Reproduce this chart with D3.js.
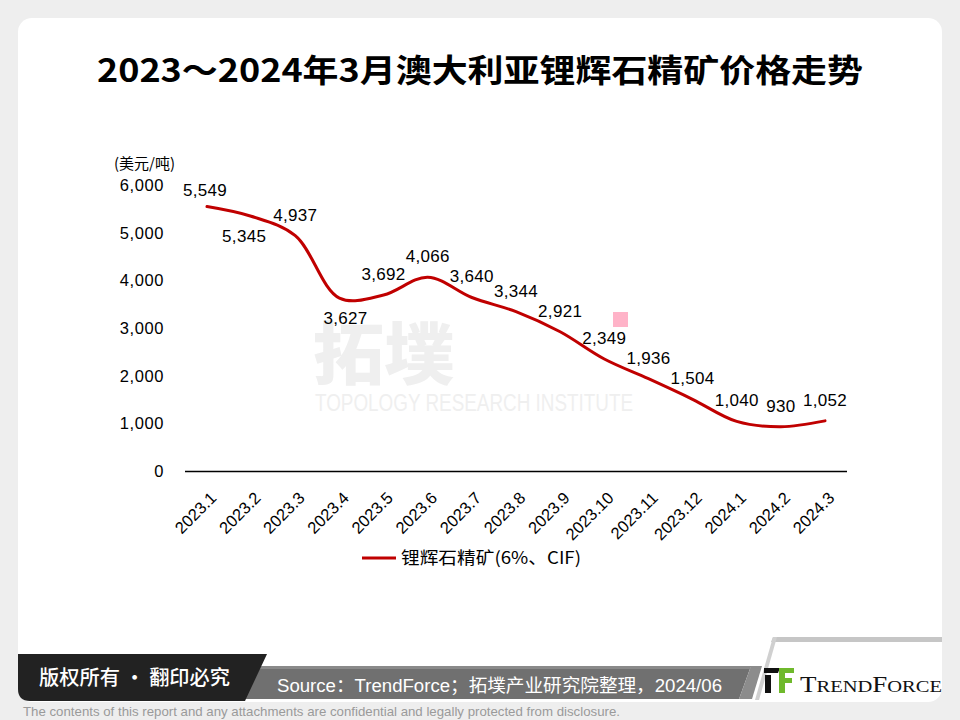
<!DOCTYPE html>
<html><head><meta charset="utf-8">
<script src="https://cdn.jsdelivr.net/npm/d3@7"></script>
<style>
html,body{margin:0;padding:0;background:#eeeeee;}
svg{display:block;}
</style></head>
<body>
<svg id="chart" width="960" height="720"></svg>
<script>
// ---- data ----
const categories = ["2023.1","2023.2","2023.3","2023.4","2023.5","2023.6","2023.7","2023.8","2023.9","2023.10","2023.11","2023.12","2024.1","2024.2","2024.3"];
const prices = [5549,5345,4937,3627,3692,4066,3640,3344,2921,2349,1936,1504,1040,930,1052];
const yTicks = [0,1000,2000,3000,4000,5000,6000];
const seriesName = "锂辉石精矿(6%、CIF)";
const labelsBelow = [1,3]; // indices of data labels placed under the line
const titleText = "2023～2024年3月澳大利亚锂辉石精矿价格走势";
const unitText = "(美元/吨)";
const sourceText = "Source：TrendForce；拓墣产业研究院整理，2024/06";
const rightsText = "版权所有 · 翻印必究";
const disclaimer = "The contents of this report and any attachments are confidential and legally protected from disclosure.";

const svg = d3.select("#chart");
const SANS = "'Liberation Sans', Arial, sans-serif";
const CJK = "'Noto Sans CJK SC', 'Noto Sans', sans-serif";

// card
svg.append("rect").attr("x",18).attr("y",18).attr("width",924).attr("height",684)
  .attr("rx",14).attr("fill","#ffffff");

// title
svg.append("text").attr("x",480).attr("y",82).attr("text-anchor","middle")
  .attr("font-family",CJK).attr("font-weight",700).attr("font-size",32)
  .attr("textLength",766).attr("lengthAdjust","spacingAndGlyphs")
  .attr("fill","#000").text(titleText);

// watermark
const wm = svg.append("g").attr("fill","#efefef");
wm.append("text").attr("x",313).attr("y",379).attr("font-family",CJK).attr("font-weight",900)
  .attr("font-size",68).attr("textLength",142).attr("lengthAdjust","spacingAndGlyphs").text("拓墣");
wm.append("text").attr("x",315).attr("y",411).attr("font-family",SANS)
  .attr("font-size",23).attr("textLength",318).attr("lengthAdjust","spacingAndGlyphs").text("TOPOLOGY RESEARCH INSTITUTE");

// scales
const x = d3.scalePoint().domain(categories).range([207, 825]);
const y = d3.scaleLinear().domain([0,6000]).range([471,185]);

// y axis labels
svg.append("g").selectAll("text").data(yTicks).join("text")
  .attr("x",164).attr("y",d=>y(d)+6).attr("text-anchor","end")
  .attr("font-family",SANS).attr("font-size",16.5).attr("letter-spacing",0.6).attr("fill","#000")
  .text(d=>d3.format(",")(d));
svg.append("text").attr("x",114).attr("y",169).attr("font-family",CJK)
  .attr("font-size",15).attr("fill","#000").text(unitText);

// x axis
const xAxis = d3.axisBottom(x).tickSize(0).tickPadding(0);
const gx = svg.append("g").attr("transform","translate(0,471)").call(xAxis);
gx.select(".domain").attr("d","M185,0.5H847").attr("stroke","#000").attr("stroke-width",1.3);
gx.selectAll(".tick text")
  .attr("font-family",SANS).attr("font-size",16.5).attr("fill","#000")
  .attr("text-anchor","end").attr("dy",null).attr("y",0)
  .attr("transform","translate(10,28) rotate(-45)");

// line
const line = d3.line().x((d,i)=>x(categories[i])).y(d=>y(d)).curve(d3.curveCatmullRom.alpha(0.5));
svg.append("path").datum(prices).attr("d",line).attr("fill","none")
  .attr("stroke","#c00000").attr("stroke-width",3).attr("stroke-linecap","round");

// data labels
svg.append("g").selectAll("text").data(prices).join("text")
  .attr("x",(d,i)=>x(categories[i]) + (i===0?-2:i===1?-7:i===3?6:0))
  .attr("y",(d,i)=> labelsBelow.includes(i) ? y(d)+26 : (i===0? y(d)-10 : y(d)-15))
  .attr("text-anchor","middle").attr("font-family",SANS).attr("font-size",17)
  .attr("letter-spacing",0.3).attr("fill","#000")
  .text(d=>d3.format(",")(d));

// pink marker artifact
svg.append("rect").attr("x",613).attr("y",312).attr("width",15).attr("height",15).attr("fill","#ffb3c8");

// legend
svg.append("line").attr("x1",362).attr("x2",396).attr("y1",558).attr("y2",558)
  .attr("stroke","#c00000").attr("stroke-width",3);
svg.append("text").attr("x",401).attr("y",564).attr("font-family",CJK).attr("font-size",17)
  .attr("textLength",180).attr("lengthAdjust","spacingAndGlyphs")
  .attr("fill","#000").text(seriesName);

// footer: gray band
svg.append("path").attr("d","M250,666 H751 L739,699 H240 Z").attr("fill","#707070");
svg.append("path").attr("d","M250,666 H751 L750,669 H249 Z").attr("fill","#8a8a8a");
svg.append("text").attr("x",277).attr("y",692).attr("font-family",SANS+", "+CJK)
  .attr("font-size",18).attr("fill","#fff").attr("textLength",445).attr("lengthAdjust","spacingAndGlyphs")
  .text(sourceText);
// dark block
svg.append("path").attr("d","M18,654 H267 L245,701 H30 Q18,701 18,689 Z").attr("fill","#222222");
svg.append("text").attr("x",39).attr("y",685).attr("font-family",CJK).attr("font-weight",500)
  .attr("font-size",20).attr("fill","#fff").attr("textLength",191).attr("lengthAdjust","spacingAndGlyphs")
  .text(rightsText);

// logo frame
svg.append("path").attr("d","M773,637 H942 V642 H771 Z").attr("fill","#c6c6c6");
svg.append("path").attr("d","M773,637 L777,637 L759,700 L755,700 Z").attr("fill","#d0d0d0");
svg.append("path").attr("d","M751,666 L762,666 L752,699 L739,699 Z").attr("fill","#8c8c8c");
// icon
const ic = svg.append("g");
ic.append("path").attr("d","M764,668 H780 L778,673 H764 Z").attr("fill","#111");
ic.append("rect").attr("x",765).attr("y",675).attr("width",6).attr("height",18).attr("fill","#111");
ic.append("path").attr("d","M779,668 H794 V673 H785 V678 H792 V683 H785 V693 H779 Z").attr("fill","#6fb92c");
// wordmark
const wt = svg.append("text").attr("x",800).attr("y",692).attr("font-family","'Liberation Serif', 'DejaVu Serif', serif")
  .attr("fill","#111").attr("textLength",142).attr("lengthAdjust","spacingAndGlyphs");
wt.append("tspan").attr("font-size",23).text("T");
wt.append("tspan").attr("font-size",17.5).text("REND");
wt.append("tspan").attr("font-size",23).text("F");
wt.append("tspan").attr("font-size",17.5).text("ORCE");

// disclaimer
svg.append("text").attr("x",23).attr("y",716).attr("font-family","'Liberation Sans Narrow', "+SANS)
  .attr("font-size",13).attr("fill","#9a9a9a").attr("textLength",597).attr("lengthAdjust","spacingAndGlyphs")
  .text(disclaimer);
</script>
</body></html>
